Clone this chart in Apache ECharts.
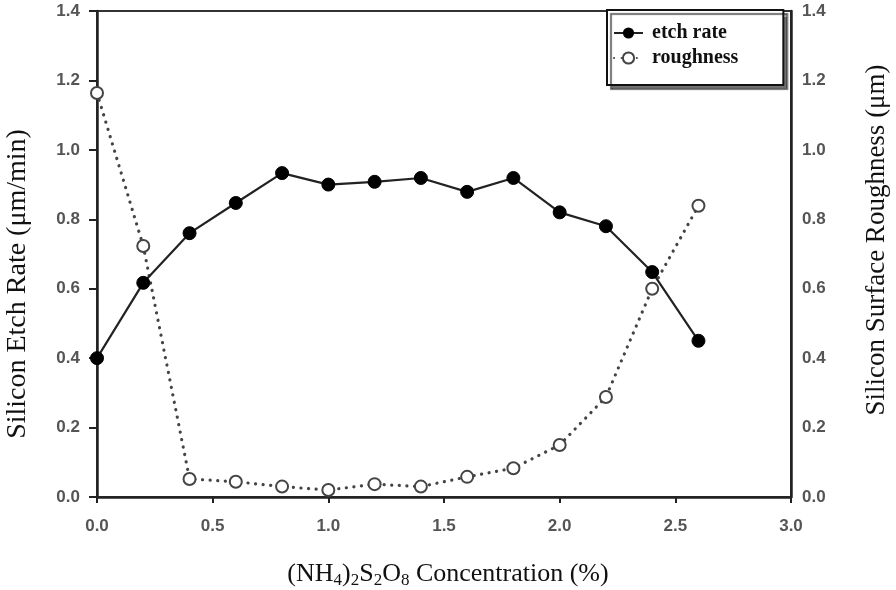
<!DOCTYPE html>
<html><head><meta charset="utf-8">
<script src="https://cdn.jsdelivr.net/npm/echarts@6/dist/echarts.min.js"></script>
<style>html,body{margin:0;padding:0;background:#fff}#c{width:896px;height:590px}</style>
</head><body><div id="c"></div>
<script>
const concentration = [0.0, 0.2, 0.4, 0.6, 0.8, 1.0, 1.2, 1.4, 1.6, 1.8, 2.0, 2.2, 2.4, 2.6];
const etchRate = [0.40, 0.617, 0.76, 0.847, 0.933, 0.90, 0.908, 0.919, 0.879, 0.919, 0.82, 0.78, 0.648, 0.45];
const roughness = [1.164, 0.723, 0.052, 0.044, 0.03, 0.02, 0.037, 0.03, 0.058, 0.083, 0.15, 0.288, 0.60, 0.839];
const xTicks = [0, 3, 0.5];
const yTicks = [0, 1.4, 0.2];
const xTitle = '(NH{s|4}){s|2}S{s|2}O{s|8} Concentration (%)';
const yLeftTitle = 'Silicon Etch Rate (μm/min)';
const yRightTitle = 'Silicon Surface Roughness (μm)';

const chart = echarts.init(document.getElementById('c'));
const tickFont = {fontFamily:'Liberation Sans, Arial', fontWeight:'bold', fontSize:17, color:'#555'};
const serif = 'Liberation Serif, Times New Roman';
chart.setOption({
  animation:false,
  grid:{left:97, right:105, top:11, bottom:93, show:true, borderColor:'#333', borderWidth:2, backgroundColor:'transparent'},
  legend:{
    left:607, top:10, orient:'vertical', itemWidth:29, itemHeight:14, itemGap:5,
    padding:[13, 45, 17, 6],
    borderColor:'#111', borderWidth:2, backgroundColor:'#fff',
    shadowColor:'rgba(0,0,0,0.55)', shadowOffsetX:4, shadowOffsetY:4, shadowBlur:1,
    textStyle:{fontFamily:serif, fontWeight:'bold', fontSize:20, color:'#111', padding:[0,0,0,4]},
    data:['etch rate','roughness']
  },
  graphic:[
    {type:'text', x:448, y:574, z:10,
     style:{text:xTitle, fontFamily:serif, fontSize:26, fill:'#111', align:'center', verticalAlign:'middle',
            rich:{s:{fontFamily:serif, fontSize:17, fill:'#111', padding:[14,0,0,0]}}}},
    {type:'text', x:18, y:284, rotation:Math.PI/2, z:10,
     style:{text:yLeftTitle, fontFamily:serif, fontSize:28, fill:'#111', align:'center', verticalAlign:'middle'}},
    {type:'text', x:877, y:240, rotation:Math.PI/2, z:10,
     style:{text:yRightTitle, fontFamily:serif, fontSize:27, fill:'#111', align:'center', verticalAlign:'middle'}}
  ],
  xAxis:{
    type:'value', min:xTicks[0], max:xTicks[1], interval:xTicks[2],
    axisLine:{show:true, onZero:false, lineStyle:{color:'#222', width:2.5}},
    axisTick:{show:true, inside:false, length:6, lineStyle:{color:'#222', width:2}},
    splitLine:{show:false},
    axisLabel:Object.assign({margin:21, formatter:v=>v.toFixed(1)}, tickFont)
  },
  yAxis:[{
    type:'value', min:yTicks[0], max:yTicks[1], interval:yTicks[2],
    axisLine:{show:true, onZero:false, lineStyle:{color:'#222', width:2.5}},
    axisTick:{show:true, length:8, lineStyle:{color:'#222', width:2}},
    splitLine:{show:false},
    axisLabel:Object.assign({margin:17, formatter:v=>v.toFixed(1)}, tickFont)
  },{
    type:'value', min:yTicks[0], max:yTicks[1], interval:yTicks[2], position:'right',
    axisLine:{show:true, onZero:false, lineStyle:{color:'#222', width:2.5}},
    axisTick:{show:false},
    splitLine:{show:false},
    axisLabel:Object.assign({margin:11, formatter:v=>v.toFixed(1)}, tickFont)
  }],
  series:[{
    name:'etch rate', type:'line', yAxisIndex:0,
    data:concentration.map((x,i)=>[x, etchRate[i]]),
    symbol:'circle', symbolSize:13,
    itemStyle:{color:'#000', borderColor:'#000'},
    lineStyle:{color:'#222', width:2.2}, z:3
  },{
    name:'roughness', type:'line', yAxisIndex:1,
    data:concentration.map((x,i)=>[x, roughness[i]]),
    symbol:'circle', symbolSize:12,
    itemStyle:{color:'#fff', borderColor:'#444', borderWidth:2},
    lineStyle:{color:'#444', width:3.2, type:[0.1, 7.5], cap:'round'}, z:2
  }]
});
</script></body></html>
